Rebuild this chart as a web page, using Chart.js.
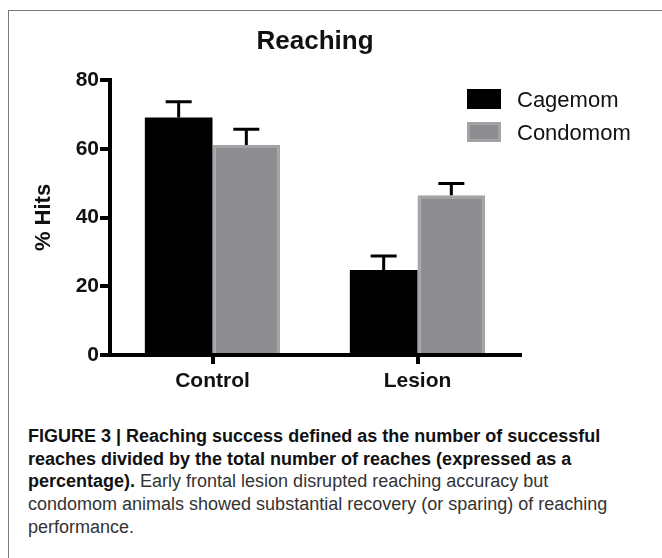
<!DOCTYPE html>
<html>
<head>
<meta charset="utf-8">
<script src="https://cdn.jsdelivr.net/npm/chart.js@4.4.1/dist/chart.umd.min.js"></script>
<style>
  html, body { margin: 0; padding: 0; background: #fff; }
  body { width: 662px; height: 558px; position: relative; overflow: hidden; font-family: "Liberation Sans", Arial, sans-serif; }
  #frame { position: absolute; left: 8px; top: 10px; width: 700px; height: 600px; border: 1.5px solid #7a7a7a; box-sizing: border-box; }
  #chart { position: absolute; left: 0; top: 0; }
  #caption { position: absolute; left: 28px; top: 425px; font-size: 18px; line-height: 22.7px; color: #333; white-space: nowrap; }
  #caption b { color: #111; }
</style>
</head>
<body>
<div id="frame"></div>
<canvas id="chart" width="662" height="400"></canvas>
<div id="caption">
  <b>FIGURE 3 | Reaching success defined as the number of successful</b><br>
  <b>reaches divided by the total number of reaches (expressed as a</b><br>
  <b>percentage).</b> Early frontal lesion disrupted reaching accuracy but<br>
  condomom animals showed substantial recovery (or sparing) of reaching<br>
  performance.
</div>
<script>
// Reaching success — grouped bars with upward SEM bars

const chartTitle = 'Reaching';
const categories = ['Control', 'Lesion'];
const seriesNames = ['Cagemom', 'Condomom'];
const cagemomValues = [69.1, 24.7];
const condomomValues = [61.1, 46.5];
const cagemomErrors = [4.6, 4.1];
const condomomErrors = [4.6, 3.4];
const yTicks = [0, 20, 40, 60, 80];

const BLACK = '#000000';
const GREY_FILL = '#8d8c91';
const GREY_EDGE = '#a3a3a6';

/** Draws the upward error bars on top of each bar. */
const errorBars = {
  id: 'errorBars',
  afterDatasetsDraw(chart) {
    const ctx = chart.ctx;
    const yScale = chart.scales.y;
    chart.data.datasets.forEach((ds, i) => {
      const meta = chart.getDatasetMeta(i);
      meta.data.forEach((bar, j) => {
        const base = yScale.getPixelForValue(ds.data[j]);
        const top = yScale.getPixelForValue(ds.data[j] + ds.errors[j]);
        ctx.save();
        ctx.strokeStyle = BLACK;
        ctx.lineWidth = 3;
        ctx.beginPath();
        ctx.moveTo(bar.x, base);
        ctx.lineTo(bar.x, top);
        ctx.moveTo(bar.x - 13, top);
        ctx.lineTo(bar.x + 13, top);
        ctx.stroke();
        ctx.restore();
      });
    });
  }
};

/** Title over the plot area and the legend at the top right. */
const titleAndLegend = {
  id: 'titleAndLegend',
  afterDraw(chart) {
    const ctx = chart.ctx;
    const area = chart.chartArea;
    ctx.save();
    ctx.fillStyle = '#111';
    ctx.font = 'bold 26px "Liberation Sans", Arial, sans-serif';
    ctx.textAlign = 'center';
    ctx.textBaseline = 'alphabetic';
    ctx.fillText(chartTitle, (area.left + area.right) / 2, 49);

    ctx.font = '22px "Liberation Sans", Arial, sans-serif';
    ctx.textAlign = 'left';
    chart.data.datasets.forEach((ds, i) => {
      const y = 89 + i * 33;
      ctx.fillStyle = ds.borderColor;
      ctx.fillRect(467, y, 34, 20);
      ctx.fillStyle = ds.backgroundColor;
      ctx.fillRect(470, y + 3, 28, 14);
      ctx.fillStyle = '#111';
      ctx.fillText(ds.label, 517, y + 18);
    });
    ctx.restore();
  }
};

new Chart(document.getElementById('chart'), {
  type: 'bar',
  data: {
    labels: categories,
    datasets: [
      { label: seriesNames[0], data: cagemomValues, errors: cagemomErrors,
        backgroundColor: BLACK, borderColor: BLACK, borderWidth: 0 },
      { label: seriesNames[1], data: condomomValues, errors: condomomErrors,
        backgroundColor: GREY_FILL, borderColor: GREY_EDGE, borderWidth: 3 }
    ]
  },
  options: {
    responsive: false,
    devicePixelRatio: 1,
    animation: false,
    layout: { padding: { top: 80, right: 142, bottom: 0, left: 0 } },
    datasets: { bar: { categoryPercentage: 0.66, barPercentage: 1.0 } },
    plugins: { legend: { display: false }, title: { display: false }, tooltip: { enabled: false } },
    scales: {
      x: {
        afterFit: (scale) => { scale.height = 45; },
        border: { display: true, color: BLACK, width: 4 },
        grid: { display: true, offset: false, drawOnChartArea: false, drawTicks: true, tickLength: 9, lineWidth: 4, color: BLACK },
        ticks: { color: '#111', padding: 5, font: { family: '"Liberation Sans", Arial, sans-serif', size: 21, weight: 'bold' } }
      },
      y: {
        min: yTicks[0],
        max: yTicks[yTicks.length - 1],
        afterFit: (scale) => { scale.width = 110; },
        afterBuildTicks: (scale) => { scale.ticks = yTicks.map(v => ({ value: v })); },
        border: { display: true, color: BLACK, width: 4 },
        grid: { display: true, drawOnChartArea: false, drawTicks: true, tickLength: 10, lineWidth: 4, color: BLACK },
        ticks: { color: '#111', padding: 1, font: { family: '"Liberation Sans", Arial, sans-serif', size: 21, weight: 'bold' } },
        title: { display: true, text: '% Hits', color: '#111', padding: { top: 31, bottom: 0 },
                 font: { family: '"Liberation Sans", Arial, sans-serif', size: 22, weight: 'bold' } }
      }
    }
  },
  plugins: [errorBars, titleAndLegend]
});
</script>
</body>
</html>
